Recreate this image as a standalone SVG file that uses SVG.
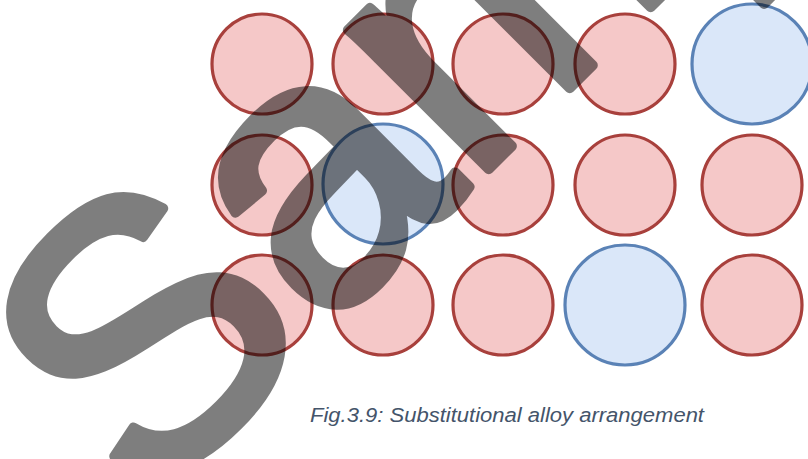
<svg xmlns="http://www.w3.org/2000/svg" width="808" height="459" viewBox="0 0 808 459">
<style>
.red{fill:#f5c8c8;stroke:#a8403c;stroke-width:3.2}
.blue{fill:#dae7f9;stroke:#5a82b6;stroke-width:3.2}
.cap{font-family:"Liberation Sans",Arial,sans-serif;font-style:italic;font-size:20.5px;fill:#44546a}
.wm{font-family:"Liberation Sans",Arial,sans-serif;font-size:375px;fill:#000;stroke:#000;stroke-width:10;stroke-linejoin:round}
</style>
<rect width="808" height="459" fill="#ffffff"/>
<g id="atoms">
<g id="r1c1"><circle class="red" cx="262" cy="64" r="50"/></g>
<g id="r1c2"><circle class="red" cx="383" cy="64" r="50"/></g>
<g id="r1c3"><circle class="red" cx="503" cy="64" r="50"/></g>
<g id="r1c4"><circle class="red" cx="625" cy="64" r="50"/></g>
<g id="r1c5"><circle class="blue" cx="752" cy="64" r="60"/></g>
<g id="r2c1"><circle class="red" cx="262" cy="185" r="50"/></g>
<g id="r2c2"><circle class="blue" cx="383" cy="184" r="60"/></g>
<g id="r2c3"><circle class="red" cx="503" cy="185" r="50"/></g>
<g id="r2c4"><circle class="red" cx="625" cy="185" r="50"/></g>
<g id="r2c5"><circle class="red" cx="752" cy="185" r="50"/></g>
<g id="r3c1"><circle class="red" cx="262" cy="305" r="50"/></g>
<g id="r3c2"><circle class="red" cx="383" cy="305" r="50"/></g>
<g id="r3c3"><circle class="red" cx="503" cy="305" r="50"/></g>
<g id="r3c4"><circle class="blue" cx="625" cy="305" r="60"/></g>
<g id="r3c5"><circle class="red" cx="752" cy="305" r="50"/></g>
</g>
<g id="connectors"></g>
<text class="cap" x="310" y="422" textLength="394" lengthAdjust="spacingAndGlyphs">Fig.3.9: Substitutional alloy arrangement</text>
<g id="watermark" opacity="0.5">
<text class="wm" transform="translate(146,512) rotate(-45)" x="0" y="0">Sample</text>
</g>
</svg>
